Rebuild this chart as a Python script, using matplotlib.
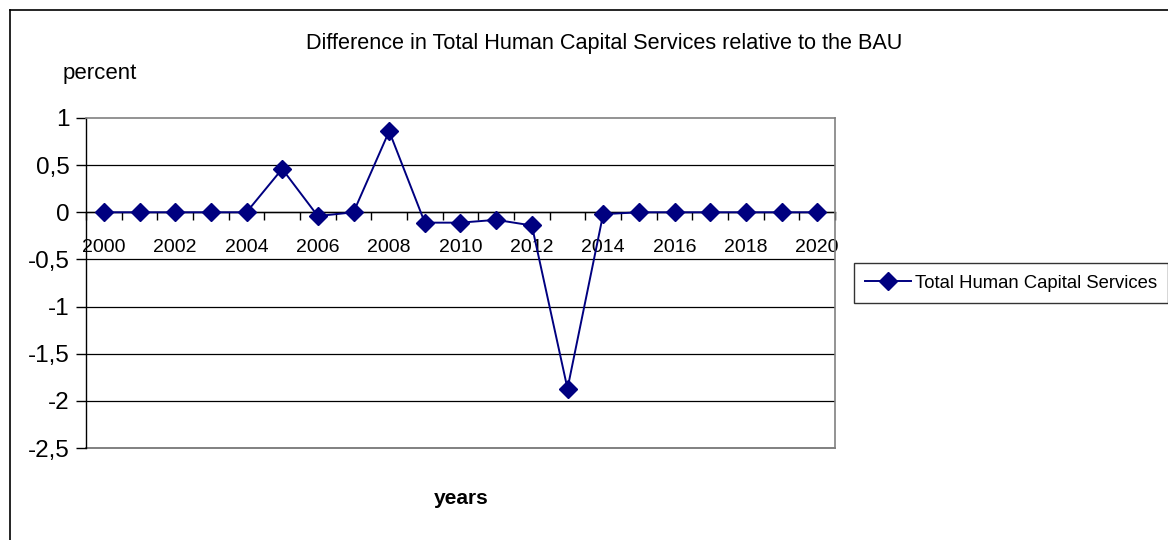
import matplotlib
matplotlib.use("Agg")
import matplotlib.pyplot as plt
from matplotlib.lines import Line2D

plt.rcParams['font.family'] = ['Liberation Sans', 'DejaVu Sans']

years = list(range(2000, 2021))
values = [0, 0, 0, 0, 0, 0.46, -0.04, 0, 0.86, -0.11, -0.11, -0.08, -0.14,
          -1.87, -0.02, 0, 0, 0, 0, 0, 0]
yticks = [1, 0.5, 0, -0.5, -1, -1.5, -2, -2.5]
ytick_labels = ["1", "0,5", "0", "-0,5", "-1", "-1,5", "-2", "-2,5"]
series_name = "Total Human Capital Services"
title = "Difference in Total Human Capital Services relative to the BAU"

W, H = 1168, 540
fig = plt.figure(figsize=(W / 100, H / 100), dpi=100)
fig.patch.set_facecolor("white")

# outer chart frame (runs off the right and bottom edges)
fig.add_artist(Line2D([10 / W, 10 / W], [0, 1 - 10 / H], transform=fig.transFigure,
                      color="black", lw=1.2))
fig.add_artist(Line2D([10 / W, 1], [1 - 10 / H, 1 - 10 / H], transform=fig.transFigure,
                      color="black", lw=1.2))

left, right, top, bottom = 86, 835, 118, 448
ax = fig.add_axes([left / W, 1 - bottom / H, (right - left) / W, (bottom - top) / H])
ax.set_facecolor("white")

x = list(range(len(years)))
ax.set_xlim(-0.5, len(years) - 0.5)
ax.set_ylim(-2.5, 1)

for yv in yticks:
    if yv in (1, -2.5):
        continue
    ax.axhline(yv, color="black", lw=0.9, zorder=1)

ax.plot(x, values, color="#000080", lw=1.4, marker="D", markersize=9,
        markerfacecolor="#000080", markeredgecolor="#000080", zorder=3,
        label=series_name)

for s in ("top", "right"):
    ax.spines[s].set_color("#808080")
    ax.spines[s].set_linewidth(1.2)
ax.spines["left"].set_color("black")
ax.spines["left"].set_linewidth(1.0)
ax.spines["bottom"].set_position(("data", 0))
ax.spines["bottom"].set_color("black")
ax.spines["bottom"].set_linewidth(1.0)
ax.spines["bottom"].set_zorder(2)
# bottom border of plot area at -2.5
ax.axhline(-2.5, color="#808080", lw=1.4, zorder=1, clip_on=False)

ax.set_yticks(yticks)
ax.set_yticklabels(ytick_labels, fontsize=17.5)
ax.tick_params(axis="y", direction="out", length=7, width=1, pad=5)

bounds = [i - 0.5 for i in range(len(years) + 1)]
ax.set_xticks(bounds)
ax.set_xticklabels([""] * len(bounds))
ax.tick_params(axis="x", which="major", direction="out", length=6, width=1)
ax.set_xticks(x[::2], minor=True)
ax.set_xticklabels([str(y) for y in years[::2]], minor=True, fontsize=14)
ax.tick_params(axis="x", which="minor", length=0, pad=19)

fig.text(604 / W, 1 - 44 / H, title, ha="center", va="center", fontsize=15.6)
fig.text(63 / W, 1 - 73 / H, "percent", ha="left", va="center", fontsize=16)
fig.text(461 / W, 1 - 498 / H, "years", ha="center", va="center", fontsize=15,
         fontweight="bold")

leg = fig.legend(handles=[Line2D([0], [0], color="#000080", lw=1.4, marker="D",
                                 markersize=9)],
                 labels=[series_name], loc="upper left",
                 bbox_to_anchor=(854 / W, 1 - 263 / H), frameon=True, fancybox=False,
                 fontsize=13.3, handlelength=2.5, borderpad=0.6, handletextpad=0.2,
                 borderaxespad=0, handleheight=0.9)
leg.get_frame().set_edgecolor("black")
leg.get_frame().set_linewidth(1.0)

fig.savefig("out.png", dpi=100)
